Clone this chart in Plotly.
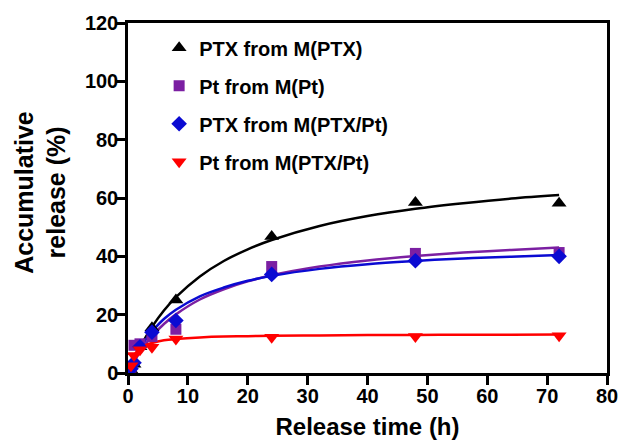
import plotly.graph_objects as go

# ---- measured data points ----
times = [0.5, 1, 2, 4, 8, 24, 48, 72]
ptx_m_ptx = [1.0, 3.0, 9.0, 15.5, 25.0, 46.8, 58.5, 58.2]
pt_m_pt = [2.0, 9.5, 10.0, 12.5, 15.0, 36.5, 41.0, 41.3]
ptx_m_ptxpt = [1.5, 3.5, 9.0, 14.0, 18.0, 33.8, 38.5, 40.0]
pt_m_ptxpt = [2.5, 6.0, 8.0, 8.8, 11.7, 12.3, 12.5, 12.8]

# ---- fitted curves ----
fit_t = [0, 0.5, 1, 2, 3, 4, 6, 8, 12, 16, 20, 24, 32, 40, 48, 56, 64, 72]
fit_ptx_m_ptx = [0, 2.4, 4.7, 8.8, 12.5, 15.8, 21.4, 26.0, 33.1, 38.4, 42.4, 45.6, 50.4, 53.8, 56.3, 58.2, 59.8, 61.0]
fit_pt_m_pt = [0, 2.0, 3.9, 7.2, 10.1, 12.6, 16.8, 20.1, 25.2, 28.7, 31.4, 33.5, 36.5, 38.6, 40.1, 41.3, 42.2, 43.0]
fit_ptx_m_ptxpt = [0, 2.45, 4.7, 8.4, 11.6, 14.2, 18.5, 21.7, 26.3, 29.3, 31.6, 33.3, 35.7, 37.3, 38.4, 39.3, 39.9, 40.5]
fit_pt_m_ptxpt = [0, 3.9, 6.1, 8.4, 9.6, 10.3, 11.2, 11.65, 12.2, 12.5, 12.6, 12.8, 12.9, 13.0, 13.07, 13.1, 13.15, 13.18]

names = ["PTX from M(PTX)", "Pt from M(Pt)", "PTX from M(PTX/Pt)", "Pt from M(PTX/Pt)"]
colors = ["#000000", "#7B1FA2", "#0A0AD2", "#FF0000"]
symbols = ["triangle-up", "square", "diamond", "triangle-down"]
sizes = [13, 11, 12, 13]

x_ticks = [0, 10, 20, 30, 40, 50, 60, 70, 80]
y_ticks = [0, 20, 40, 60, 80, 100, 120]
y_title_lines = ["Accumulative", "release (%)"]

points = [ptx_m_ptx, pt_m_pt, ptx_m_ptxpt, pt_m_ptxpt]
fits = [fit_ptx_m_ptx, fit_pt_m_pt, fit_ptx_m_ptxpt, fit_pt_m_ptxpt]

FONT = "Liberation Sans, Arial, sans-serif"

fig = go.Figure()
for f, c in zip(fits, colors):
    fig.add_trace(go.Scatter(x=fit_t, y=f, mode="lines", line=dict(color=c, width=2.5, shape="spline"),
                             showlegend=False, hoverinfo="skip"))
for i, (p, n, c, s, sz) in enumerate(zip(points, names, colors, symbols, sizes)):
    fig.add_trace(go.Scatter(x=times, y=p, mode="markers", name=n, legendgroup=str(i),
                             marker=dict(color=c, symbol=s, size=sz, line=dict(width=0))))

axis_common = dict(showgrid=False, zeroline=False, showline=True, linecolor="black", linewidth=2.5,
                   mirror=True, ticks="outside", ticklen=9, tickwidth=2.5, tickcolor="black",
                   tickfont=dict(family=FONT, size=20, weight="bold"), automargin=False)

fig.update_layout(
    width=621, height=448,
    margin=dict(l=128, r=14, t=23, b=75),
    paper_bgcolor="white", plot_bgcolor="white",
    font=dict(family=FONT, color="black"),
    legend=dict(x=0.065, y=0.985, xanchor="left", yanchor="top",
                font=dict(family=FONT, size=20, weight="bold"),
                tracegroupgap=9, bgcolor="rgba(0,0,0,0)", itemwidth=30),
    xaxis=dict(range=[0, 80], tickvals=x_ticks, ticklabelstandoff=-6, **axis_common,
               title=dict(text="Release time (h)", font=dict(family=FONT, size=24, weight="bold"), standoff=13)),
    yaxis=dict(range=[0, 120], tickvals=y_ticks, ticklabelstandoff=-6, **axis_common),
)

for txt, xp in zip(y_title_lines, [-0.217, -0.151]):
    fig.add_annotation(text=txt, xref="paper", yref="paper", x=xp, y=0.515,
                       xanchor="center", yanchor="middle", textangle=-90, showarrow=False,
                       font=dict(family=FONT, size=25, weight="bold", color="black"))

fig.write_html("out.html", config={"displayModeBar": False},
               post_script="document.body.style.margin='0';")
